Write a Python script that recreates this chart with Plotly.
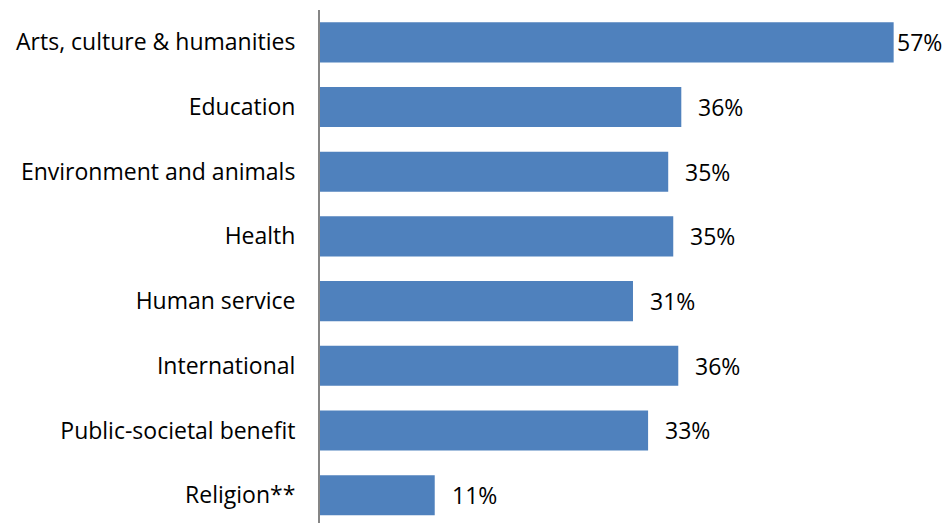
import plotly.graph_objects as go

categories = ["Arts, culture & humanities", "Education", "Environment and animals", "Health",
              "Human service", "International", "Public-societal benefit", "Religion**"]
values = [57.0, 35.9, 34.6, 35.1, 31.1, 35.6, 32.6, 11.4]
labels = ["57%", "36%", "35%", "35%", "31%", "36%", "33%", "11%"]

FONT = "Open Sans"
FS = 23
fig = go.Figure()
fig.add_trace(go.Bar(
    x=values, y=categories, orientation="h",
    marker=dict(color="#4F81BD", line=dict(width=0)),
    hoverinfo="skip",
))

for i, (c, v, t) in enumerate(zip(categories, values, labels)):
    fig.add_annotation(x=v, y=c, text=t, showarrow=False, xanchor="left",
                       xshift=1 if i == 0 else 15,
                       font=dict(family=FONT, size=FS, color="#000000"))

fig.update_layout(
    width=948, height=523,
    margin=dict(l=320, r=0, t=10, b=0),
    plot_bgcolor="white", paper_bgcolor="white",
    bargap=0.38,
    showlegend=False,
    font=dict(family=FONT, size=FS, color="#000000"),
)
fig.update_xaxes(range=[0, 62.4], visible=False, fixedrange=True)
fig.update_yaxes(
    type="category", categoryorder="array", categoryarray=categories,
    range=[7.43, -0.5], showline=True, linecolor="#868686", linewidth=2,
    ticks="", ticklabelstandoff=18, showgrid=False, zeroline=False,
    tickfont=dict(family=FONT, size=FS, color="#000000"), fixedrange=True,
)
fig.write_html("out.html", config={"displayModeBar": False},
               post_script="document.body.style.margin='0';document.body.style.overflow='hidden';")
